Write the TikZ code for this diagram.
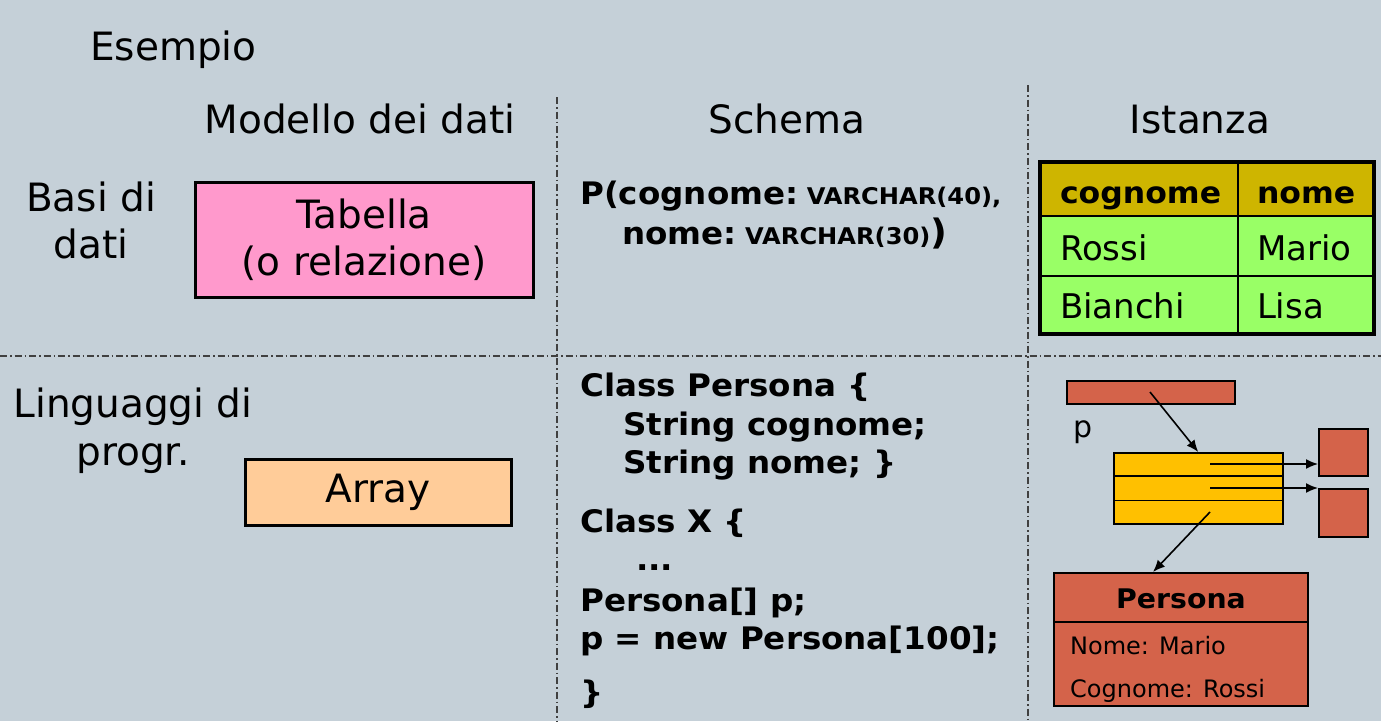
\documentclass[tikz,border=0pt]{standalone}
\usepackage{fontspec}
\setmainfont{DejaVu Sans}
\newfontfamily\codefont[FakeStretch=1.05]{DejaVu Sans Bold}
\usetikzlibrary{arrows.meta,positioning,calc}

\definecolor{bgslate}{RGB}{197,208,216}
\definecolor{pinkbox}{RGB}{255,153,204}
\definecolor{peachbox}{RGB}{255,204,153}
\definecolor{hdgold}{RGB}{206,181,0}
\definecolor{rowgreen}{RGB}{153,255,102}
\definecolor{brick}{RGB}{212,99,74}
\definecolor{amber}{RGB}{255,192,0}

\begin{document}
\begin{tikzpicture}[x=1pt, y=-1pt,
    big/.style={font=\fontsize{39}{47}\selectfont, inner sep=0pt},
    code/.style={font=\codefont\fontsize{31}{37}\selectfont, anchor=base west, inner sep=0pt},
    divider/.style={line width=1.4pt, black!75, dash pattern=on 7pt off 3pt on 1.5pt off 3pt},
    cell/.style={draw, line width=2pt, anchor=north west, inner xsep=19pt, inner ysep=0pt,
                 align=left, text height=30pt, text depth=2pt, font=\fontsize{34}{40}\selectfont},
    ptr/.style={-{Latex[length=12pt,width=10pt]}, line width=1.6pt}]

    % Background and page size
    \path[use as bounding box, fill=bgslate] (0,0) rectangle (1381,721);

    % Section dividers
    \draw[divider] (0,356) -- (1381,356);
    \draw[divider] (557,97) -- (557,721);
    \draw[divider] (1028,85) -- (1028,721);

    % Titles
    \node[big, anchor=base west] (esempio) at (90,60) {Esempio};
    \node[big, anchor=base] (hmodel) at (360,133) {Modello dei dati};
    \node[big, anchor=base] (hschema) at (787,133) {Schema};
    \node[big, anchor=base] (hinst) at (1200,133) {Istanza};

    % Row labels
    \node[big, anchor=base] (basi) at (91,211) {Basi di};
    \node[big, anchor=base] (dati) at (91,258) {dati};
    \node[big, anchor=base] (lingua) at (133,417) {Linguaggi di};
    \node[big, anchor=base] (progr) at (133,465) {progr.};

    % Data model boxes
    \node[big, draw, line width=3pt, fill=pinkbox, align=center,
          minimum width=338pt, minimum height=115pt] (tabella) at (364,240)
          {Tabella\\(o relazione)};
    \node[big, draw, line width=3pt, fill=peachbox,
          minimum width=266pt, minimum height=66pt] (array) at (378,492) {Array};

    % Schema (database)
    \node[code] (sch1) at (580,204)
        {P(cognome:{\fontsize{23}{28}\selectfont\ VARCHAR(40),}};
    \node[code] (sch2) at (622,244)
        {nome:{\fontsize{23}{28}\selectfont\ VARCHAR(30)}{\fontsize{35}{40}\selectfont)}};

    % Schema (program)
    \node[code] (cl1) at (580,396) {Class Persona \{};
    \node[code] (cl2) at (623,435) {String cognome;};
    \node[code] (cl3) at (623,473) {String nome; \}};
    \node[code] (cl4) at (580,532) {Class X \{};
    \node[code] (cl5) at (636,570) {...};
    \node[code] (cl6) at (580,611) {Persona[] p;};
    \node[code] (cl7) at (580,649) {p = new Persona[100];};
    \node[code] (cl8) at (580,703) {\}};

    % Instance table
    \node[cell, fill=hdgold, font=\codefont\fontsize{30}{36}\selectfont,
          text width=159pt, minimum height=53pt] (hcog) at (1040,162) {cognome};
    \node[cell, fill=hdgold, font=\codefont\fontsize{30}{36}\selectfont,
          text width=97pt, minimum height=53pt] (hnom) at (1237,162) {nome};
    \node[cell, fill=rowgreen, text width=159pt, minimum height=60pt] (r1cog) at (1040,215) {Rossi};
    \node[cell, fill=rowgreen, text width=97pt, minimum height=60pt] (r1nom) at (1237,215) {Mario};
    \node[cell, fill=rowgreen, text width=159pt, minimum height=57pt] (r2cog) at (1040,275) {Bianchi};
    \node[cell, fill=rowgreen, text width=97pt, minimum height=57pt] (r2nom) at (1237,275) {Lisa};
    \draw[line width=4pt] (hcog.north west) rectangle (r2nom.south east);

    % Instance objects
    \node[draw, line width=1.5pt, fill=brick, anchor=north west,
          minimum width=168pt, minimum height=23pt] (pbar) at (1066,380) {};
    \node[font=\fontsize{30}{36}\selectfont, inner sep=0pt] (plbl) at (1083,432) {p};
    \node[draw, line width=1.5pt, fill=amber, anchor=north west,
          minimum width=169pt, minimum height=71pt] (parr) at (1113,452) {};
    \draw[line width=1.5pt] ($(parr.north west)!1/3!(parr.south west)$) -- ($(parr.north east)!1/3!(parr.south east)$);
    \draw[line width=1.5pt] ($(parr.north west)!2/3!(parr.south west)$) -- ($(parr.north east)!2/3!(parr.south east)$);
    \node[draw, line width=1.5pt, fill=brick, anchor=north west,
          minimum width=49pt, minimum height=47pt] (sq1) at (1318,428) {};
    \node[draw, line width=1.5pt, fill=brick, anchor=north west,
          minimum width=49pt, minimum height=48pt] (sq2) at (1318,488) {};
    \node[draw, line width=2pt, fill=brick, anchor=north west,
          minimum width=254pt, minimum height=133pt] (pobj) at (1053,572) {};
    \draw[line width=2pt] ($(pobj.north west)+(0,50)$) -- ($(pobj.north east)+(0,50)$);
    \node[font=\codefont\fontsize{27}{32}\selectfont, inner sep=0pt] (ptitle) at (1181,599) {Persona};
    \node[font=\fontsize{24}{29}\selectfont, anchor=base west, inner sep=0pt] (pnome) at (1070,654) {Nome: Mario};
    \node[font=\fontsize{24}{29}\selectfont, anchor=base west, inner sep=0pt] (pcogn) at (1070,697) {Cognome: Rossi};

    % Pointers
    \coordinate (pref) at (1150,392);
    \coordinate (slot1) at (1210,464);
    \coordinate (slot2) at (1210,488);
    \coordinate (slot3) at (1210,512);
    \draw[ptr] (pref) -- (parr.north);
    \draw[ptr] (slot1) -- (slot1 -| sq1.west);
    \draw[ptr] (slot2) -- (slot2 -| sq2.west);
    \draw[ptr] (slot3) -- ([xshift=-28pt]pobj.north);
\end{tikzpicture}
\end{document}
